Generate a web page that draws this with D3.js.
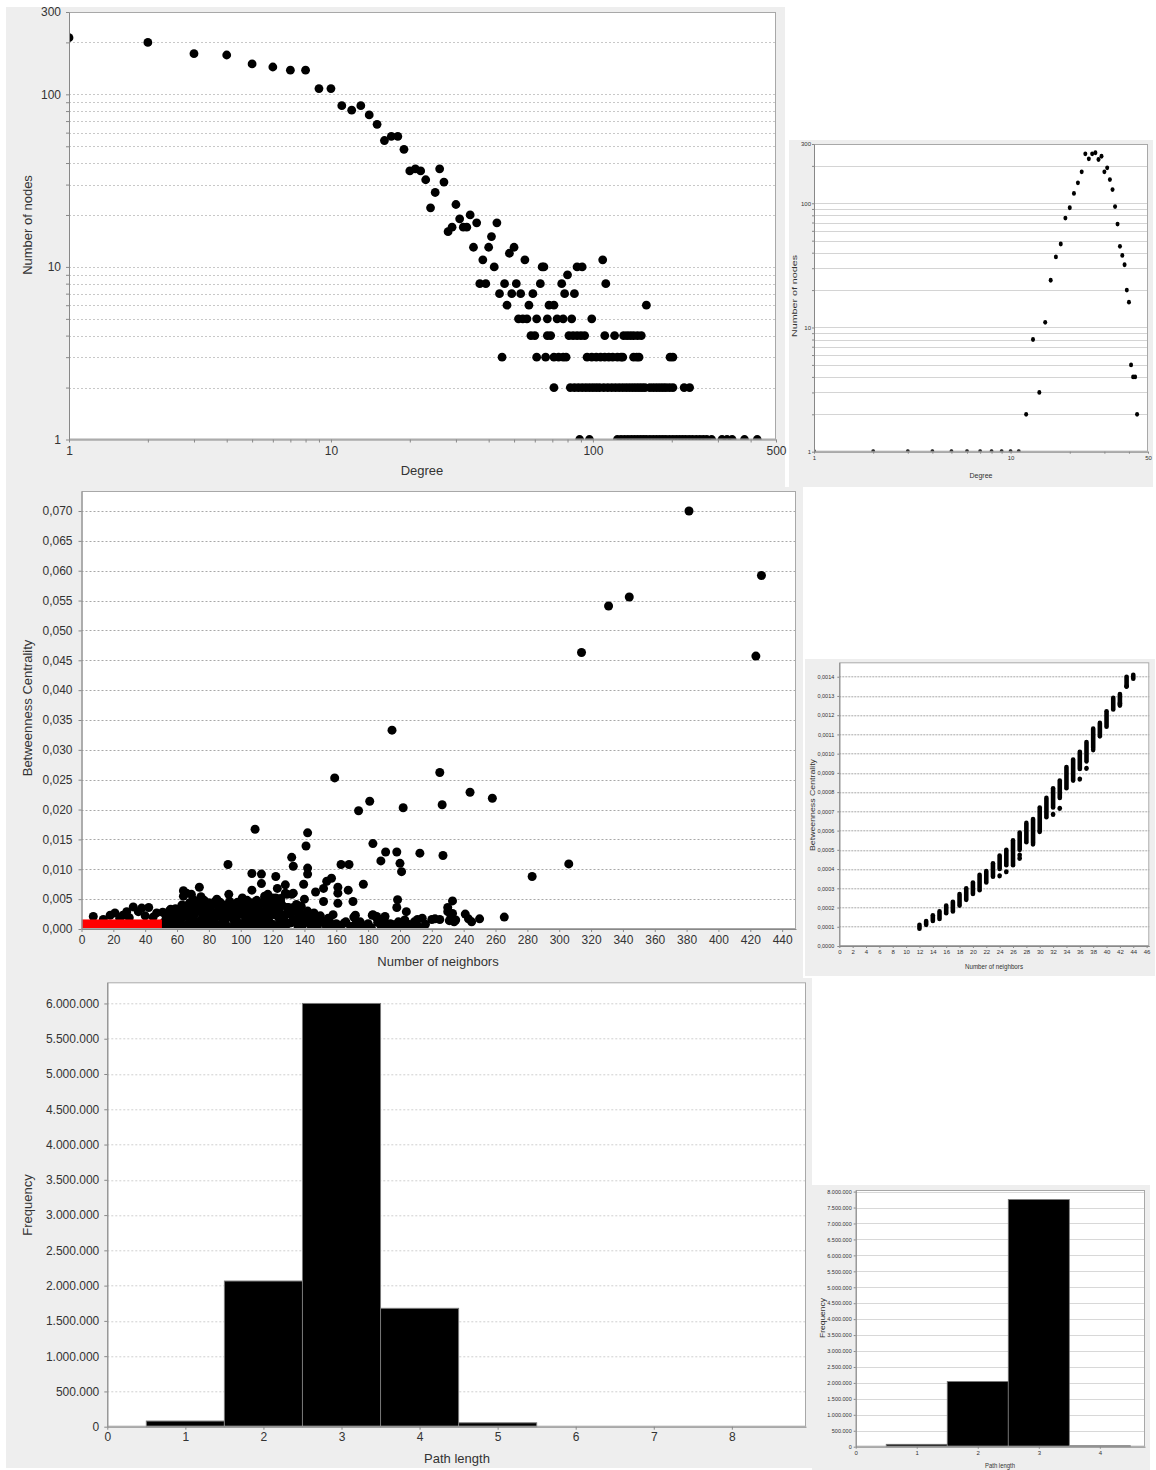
<!DOCTYPE html>
<html>
<head>
<meta charset="utf-8">
<title>Network statistics</title>
<script src="https://cdn.jsdelivr.net/npm/d3@7"></script>
<style>
  body { margin: 0; background: #fff; }
  svg text { font-family: "Liberation Sans", Arial, sans-serif; }
</style>
</head>
<body>
<script>

// ---- degree distribution, big network: [degree, number of nodes]
var degMain = [
  [1,213],[2,200],[3,172],[4,169],[5,150],[6,144],[7,138],[8,138],[9,108],[10,108],
  [11,86],[12,81],[13,86],[14,76],[15,67],[16,54],[17,57],[18,57],[19,48],[20,36],
  [21,37],[22,36],[23,32],[24,22],[25,27],[26,37],[27,31],[28,16],[29,17],[30,23],
  [31,19],[32,17],[33,17],[34,20],[35,13],[36,18],[37,8],[38,11],[39,8],[40,13],
  [41,15],[42,10],[43,18],[44,7],[45,3],[46,8],[47,6],[48,12],[49,7],[50,13],
  [51,8],[52,5],[53,7],[54,5],[55,11],[56,5],[57,6],[58,4],[59,7],[60,4],
  [61,5],[61,3],[63,8],[64,10],[65,10],[66,3],[67,5],[67,4],[68,6],[69,4],
  [71,6],[71,3],[71,2],[73,5],[74,3],[76,8],[77,5],[77,3],[78,7],[79,3],
  [80,9],[81,4],[82,2],[83,5],[84,4],[85,7],[85,2],[87,10],[87,4],[88,2],
  [89,1],[90,4],[91,10],[91,2],[93,4],[94,2],[95,3],[97,1],[97,2],[99,5],[99,3],
  [100,2],[103,3],[103,2],[106,2],[107,3],[109,11],[110,2],[111,4],[111,3],[112,8],
  [114,2],[115,3],[118,2],[119,3],[121,4],[122,2],[124,3],[124,1],[126,2],[128,3],[128,1],
  [130,3],[130,2],[131,4],[132,1],[134,2],[135,4],[136,1],[138,2],[139,4],[140,1],
  [142,2],[143,4],[143,3],[144,1],[146,2],[147,3],[148,4],[148,1],[150,3],[150,2],
  [152,1],[153,4],[154,2],[156,1],[158,2],[160,6],[160,1],[165,2],[165,1],[170,2],[170,1],
  [175,2],[175,1],[180,2],[180,1],[185,2],[185,1],[190,2],[190,1],[196,2],[196,1],
  [197,3],[202,3],[202,2],[202,1],[208,1],[214,1],[220,1],[223,2],[226,1],[233,1],
  [234,2],[240,1],[248,1],[256,1],[264,1],[272,1],[284,1],[311,1],[325,1],[340,1],[379,1],[424,1]
];

// ---- degree distribution, small (random) network
var degSmall = [
  [1,1],[2,1],[3,1],[4,1],[5,1],[6,1],[7,1],[8,1],[9,1],[10,1],[11,1],
  [12,2],[13,8],[14,3],[15,11],[16,24],[17,37],[18,47],[19,76],[20,92],
  [21,120],[22,146],[23,179],[24,250],[25,228],[26,250],[27,255],[28,225],[29,239],[30,179],
  [31,193],[32,155],[33,129],[34,94],[35,68],[36,45],[37,38],[38,32],[39,20],[40,16],
  [41,5],[42,4],[43,4],[44,2]
];

// log axis ticks
var logYTicks = [1,2,3,4,5,6,7,8,9,10,20,30,40,50,60,70,80,90,100,200,300];
var logYLabels = [1,10,100,300];
var logGrid = [2,3,4,5,6,7,8,9,10,20,30,40,50,60,70,80,90,100,200];
var degMainXTicks = [1,2,3,4,5,6,7,8,9,10,20,30,40,50,60,70,80,90,100,200,300,400,500];
var degMainXLabels = [1,10,100,500];
var degSmallXTicks = [1,2,3,4,5,6,7,8,9,10,20,30,40,50];
var degSmallXLabels = [1,10,50];

// ---- betweenness centrality vs number of neighbors, big network
var bcMain = [
  // outliers
  [381.5,0.0700],[427,0.0592],[344,0.0556],[331,0.0541],[314,0.0463],[423.5,0.0457],
  [195,0.0333],[159,0.0253],[225,0.0262],[244,0.0229],[258,0.0219],[181,0.0214],
  [174,0.0198],[202,0.0203],[226.5,0.0208],[109,0.0167],[142,0.0161],[141,0.0139],
  [183,0.0143],[191,0.0129],[198,0.0129],[212.5,0.0127],[227,0.0123],[132,0.0120],
  [188,0.0114],[133,0.0105],[92,0.0108],[163,0.0108],[168,0.0108],[200,0.0110],
  [306,0.0109],[283,0.0088],[142,0.0102],[142,0.0092],[201,0.0096],[107,0.0093],
  [113,0.0092],[122,0.0088],[177,0.0075],[139.5,0.0075],[128,0.0074],[157,0.0085],
  [154,0.0080],[74,0.0070],[161,0.0070],[123,0.0068],[113,0.0076],[64,0.0064],
  [69,0.0058],[92.5,0.0058],[107,0.0065],[167.5,0.0065],[152,0.0068],[128,0.0060],
  [133,0.0060],[147,0.0062],[161,0.0060],[161,0.0043],[170.5,0.0046],[152,0.0046],
  [140,0.0050],[115,0.0055],[119,0.0051],[125,0.0051],[133,0.0036],[130,0.0036],
  [198.5,0.0049],[198,0.0036],[233,0.0047],[230,0.0036],[204,0.0029],[233,0.0026],
  [230,0.0029],[109.6,0.0032],[120.4,0.0028],[116.3,0.0024],[110,0.0021],[117,0.0021],
  [103.7,0.0023],[172,0.0023],[182.6,0.0023],[185.4,0.0021],[190.6,0.0021],
  // low band 140 - 265
  [140,0.0015],[143,0.0012],[146,0.0010],[150,0.0013],[153,0.0008],[156,0.0011],
  [160,0.0009],[163,0.0006],[165,0.0010],[169,0.0004],[171,0.0020],[172,0.0008],
  [175,0.0012],[178,0.0005],[180,0.0009],[183,0.0024],[185,0.0020],[186,0.0011],
  [188,0.0006],[190,0.0016],[192,0.0004],[194,0.0009],[196,0.0007],[199,0.0012],
  [201,0.0005],[203,0.0015],[205,0.0008],[207,0.0004],[209,0.0012],[211,0.0016],
  [214,0.0018],[220,0.0016],[222,0.0017],[225,0.0016],[231,0.0014],[232,0.0020],
  [234,0.0012],[235,0.0015],[241,0.0025],[243,0.0017],[245,0.0012],[250,0.0017],
  [265.5,0.0020],
  // dense cluster 50 - 140
  [51,0.0028],[52,0.0012],[53,0.0022],[54,0.0005],[55,0.0030],[56,0.0016],[57,0.0026],
  [58,0.0008],[59,0.0034],[60,0.0020],[61,0.0031],[62,0.0012],[63,0.0040],[64,0.0055],
  [65,0.0024],[66,0.0060],[66,0.0035],[67,0.0009],[68,0.0044],[69,0.0028],[70,0.0050],
  [70,0.0017],[71,0.0038],[72,0.0006],[73,0.0046],[74,0.0030],[75,0.0054],[75,0.0014],
  [76,0.0040],[77,0.0048],[78,0.0022],[79,0.0036],[80,0.0010],[80,0.0044],[81,0.0030],
  [82,0.0018],[83,0.0041],[84,0.0026],[85,0.0050],[85,0.0008],[86,0.0036],[87,0.0045],
  [88,0.0021],[89,0.0032],[90,0.0012],[90,0.0040],[91,0.0028],[92,0.0004],[93,0.0035],
  [94,0.0020],[95,0.0042],[96,0.0013],[97,0.0030],[98,0.0045],[99,0.0024],[100,0.0038],
  [100,0.0009],[101,0.0052],[102,0.0030],[103,0.0017],[104,0.0048],[105,0.0040],
  [106,0.0024],[107,0.0006],[108,0.0035],[109,0.0013],[110,0.0033],[110,0.0048],
  [111,0.0019],[112,0.0010],[114,0.0026],[115,0.0050],[116,0.0015],[117,0.0058],
  [118,0.0022],[119,0.0030],[120,0.0008],[120,0.0052],[121,0.0034],[122,0.0052],
  [124,0.0018],[125,0.0047],[126,0.0024],[128,0.0012],[129,0.0058],[130,0.0029],
  [131,0.0010],[132,0.0058],[134,0.0035],[135,0.0016],[136,0.0009],[137,0.0033],
  [138,0.0014],[139,0.0007],
  [54,0.0018],[56,0.0033],[58,0.0024],[60,0.0032],[62,0.0026],[63,0.0018],[65,0.0039],
  [67,0.0030],[68,0.0015],[69,0.0042],[71,0.0024],[72,0.0032],[73,0.0012],[74,0.0040],
  [76,0.0020],[77,0.0033],[78,0.0043],[79,0.0016],[81,0.0038],[82,0.0027],[83,0.0013],
  [84,0.0046],[86,0.0022],[87,0.0030],[88,0.0040],[89,0.0015],[91,0.0036],[92,0.0025],
  [93,0.0046],[94,0.0031],[95,0.0018],[96,0.0038],[97,0.0022],[98,0.0011],[99,0.0034],
  [101,0.0026],[102,0.0044],[103,0.0036],[104,0.0021],[105,0.0012],[106,0.0031],
  [107,0.0044],[108,0.0018],[109,0.0027],[111,0.0040],[112,0.0030],[113,0.0017],
  [114,0.0044],[116,0.0034],[118,0.0012],[119,0.0042],[121,0.0024],[123,0.0039],
  [124,0.0030],[126,0.0040],[127,0.0020],[129,0.0036],[131,0.0025],[133,0.0016],
  [135,0.0041],[136,0.0026],[138,0.0038],[140,0.0024],[142,0.0030],[144,0.0018],
  [146,0.0027],[148,0.0015],[150,0.0022],[155,0.0018],[158,0.0024],
  // carpet near zero
  [52,0.0003],[56,0.0002],[60,0.0005],[64,0.0002],[68,0.0004],[72,0.0001],[76,0.0005],
  [80,0.0003],[84,0.0002],[88,0.0006],[92,0.0002],[96,0.0004],[100,0.0001],[104,0.0005],
  [108,0.0002],[112,0.0004],[116,0.0003],[120,0.0002],[124,0.0006],[128,0.0003],
  [132,0.0011],[136,0.0004],[144,0.0006],[148,0.0003],[152,0.0011],[157,0.0004],
  [162,0.0003],[166,0.0012],[174,0.0003],[182,0.0002],[190,0.0002],[198,0.0005],
  [204,0.0002],[212,0.0003],[216,0.0008],
  // left, 0 - 50
  [7.4,0.0021],[13.7,0.0016],[18,0.0023],[21,0.0027],[26,0.0023],[28.4,0.0029],
  [32.5,0.0037],[35.7,0.0029],[37.8,0.0035],[42.2,0.0036],[47.2,0.0027],[45,0.0020],
  [40,0.0022],[30,0.0019],[24,0.0018]
];
// highlighted range of the small network (neighbors, bc)
var bcHighlight = [50.5, 0.0016];
var bcMainXTicks = [0,20,40,60,80,100,120,140,160,180,200,220,240,260,280,300,320,340,360,380,400,420,440];
var bcMainYTicks = [0,0.005,0.010,0.015,0.020,0.025,0.030,0.035,0.040,0.045,0.050,0.055,0.060,0.065,0.070];

// ---- betweenness centrality, small network: [neighbors, min bc, max bc]
var bcSmallRanges = [
  [12,0.00009,0.00011],[13,0.00011,0.00013],[14,0.00013,0.00016],[15,0.00014,0.00018],
  [16,0.00017,0.00021],[17,0.00018,0.00023],[18,0.00021,0.00027],[19,0.00024,0.00030],
  [20,0.00027,0.00033],[21,0.00029,0.00037],[22,0.00033,0.00039],[23,0.00036,0.00043],
  [24,0.00040,0.00047],[25,0.00042,0.00050],[26,0.00042,0.00055],[27,0.00050,0.00059],
  [28,0.00054,0.00064],[29,0.00054,0.00066],[30,0.00060,0.00072],[31,0.00067,0.00077],
  [32,0.00072,0.00082],[33,0.00077,0.00086],[34,0.00082,0.00093],[35,0.00086,0.00097],
  [36,0.00092,0.00101],[37,0.00096,0.00106],[38,0.00103,0.00113],[39,0.00109,0.00116],
  [40,0.00114,0.00122],[41,0.00123,0.00129],[42,0.00125,0.00131],[43,0.00135,0.00140],
  [44,0.00139,0.00141]
];
var bcSmallOutliers = [[24,0.000365],[25,0.000386],[27,0.000473],[27,0.000456],[29,0.00053],
  [30,0.000595],[32,0.000684],[33,0.000716],[36,0.000868],[37,0.000924],[38,0.00102],[42,0.00126],[43,0.00135]];
var bcSmallXTicks = [0,2,4,6,8,10,12,14,16,18,20,22,24,26,28,30,32,34,36,38,40,42,44,46];
var bcSmallYTicks = [0,0.0001,0.0002,0.0003,0.0004,0.0005,0.0006,0.0007,0.0008,0.0009,0.0010,0.0011,0.0012,0.0013,0.0014];

// ---- shortest path length distribution
var pathLen = [1,2,3,4,5];
var pathFreq = [80000,2065000,6000000,1678000,55000];
var pathLenSmall = [1,2,3,4];
var pathFreqSmall = [75000,2044000,7750000,30000];
var pathXTicks = [0,1,2,3,4,5,6,7,8];
var pathSmallXTicks = [0,1,2,3,4];
var freqYTicks = [0,500000,1000000,1500000,2000000,2500000,3000000,3500000,4000000,4500000,5000000,5500000,6000000];
var freqSmallYTicks = [0,500000,1000000,1500000,2000000,2500000,3000000,3500000,4000000,4500000,5000000,5500000,6000000,6500000,7000000,7500000,8000000];

var svg = d3.select("body").append("svg").attr("width",1156).attr("height",1470);
var loc = d3.formatLocale({decimal: ",", thousands: ".", grouping: [3], currency: ["", ""]});

function panelBg(x0, y0, x1, y1) {
  svg.append("rect").attr("x",x0).attr("y",y0).attr("width",x1-x0).attr("height",y1-y0).attr("fill","#eeeeee");
}

function plotArea(id, x0, y0, x1, y1) {
  var g = svg.append("g").attr("transform","translate("+x0+","+y0+")");
  g.append("rect").attr("width",x1-x0).attr("height",y1-y0).attr("fill","#fff");
  svg.append("clipPath").attr("id",id).append("rect").attr("width",x1-x0).attr("height",y1-y0);
  return {g: g, x: x0, y: y0, w: x1-x0, h: y1-y0, clip: "url(#"+id+")"};
}

function hGrid(p, y, vals, color, dash) {
  p.g.append("g").selectAll("line").data(vals).join("line")
    .attr("x1",0).attr("x2",p.w).attr("y1",function(d){ return Math.round(y(d))+0.5; })
    .attr("y2",function(d){ return Math.round(y(d))+0.5; })
    .attr("stroke",color).attr("stroke-dasharray",dash);
}

function frame(p) {
  p.g.append("rect").attr("x",0.5).attr("y",0.5).attr("width",p.w-1).attr("height",p.h-1)
    .attr("fill","none").attr("stroke","#a8a8a8");
}

function styleAxis(sel, size) {
  sel.attr("font-family", null);
  sel.selectAll("text").attr("font-size",size).attr("fill","#333");
  sel.selectAll("line").attr("stroke","#888");
  sel.select(".domain").attr("stroke","#888");
}

function title(x, y, txt, size, rot, len) {
  var t = svg.append("text").attr("x",x).attr("y",y).attr("text-anchor","middle")
    .attr("font-size",size).attr("fill","#333").text(txt);
  if (rot) t.attr("transform","rotate(-90,"+x+","+y+")");
  if (len) t.attr("textLength",len).attr("lengthAdjust","spacingAndGlyphs");
}

// ======== panel 1: degree distribution, big network
panelBg(6, 7, 785, 487);
var p1 = plotArea("c1", 69, 12, 776, 439.5);
var x1 = d3.scaleLog().domain([1,500]).range([0,p1.w]);
var y1 = d3.scaleLog().domain([1,300]).range([p1.h,0]);
hGrid(p1, y1, logGrid, "#c8c8c8", "2,2");
p1.g.append("g").attr("clip-path",p1.clip).selectAll("circle").data(degMain).join("circle")
  .attr("cx",function(d){ return x1(d[0]); }).attr("cy",function(d){ return y1(d[1]); })
  .attr("r",4.4).attr("fill","#000");
frame(p1);
p1.g.append("g").attr("transform","translate(0,"+p1.h+")")
  .call(d3.axisBottom(x1).tickValues(degMainXTicks).tickSize(3).tickSizeOuter(0).tickPadding(4)
    .tickFormat(function(d){ return degMainXLabels.indexOf(d) >= 0 ? d : ""; }))
  .call(styleAxis, 12);
p1.g.append("g")
  .call(d3.axisLeft(y1).tickValues(logYTicks).tickSize(3).tickSizeOuter(0).tickPadding(5)
    .tickFormat(function(d){ return logYLabels.indexOf(d) >= 0 ? d : ""; }))
  .call(styleAxis, 12);
title(422, 475, "Degree", 13);
title(32, 225, "Number of nodes", 13, true);

// ======== panel 2: degree distribution, small network
panelBg(789, 140, 1153, 487);
var p2 = plotArea("c2", 814, 144, 1148, 451.7);
var x2 = d3.scaleLog().domain([1,50]).range([0,p2.w]);
var y2 = d3.scaleLog().domain([1,300]).range([p2.h,0]);
hGrid(p2, y2, logGrid, "#d4d4d4", null);
p2.g.append("g").attr("clip-path",p2.clip).selectAll("ellipse").data(degSmall).join("ellipse")
  .attr("cx",function(d){ return x2(d[0]); }).attr("cy",function(d){ return y2(d[1]); })
  .attr("rx",2).attr("ry",2.4).attr("fill","#000");
frame(p2);
p2.g.append("g").attr("transform","translate(0,"+p2.h+")")
  .call(d3.axisBottom(x2).tickValues(degSmallXTicks).tickSize(2).tickSizeOuter(0).tickPadding(2)
    .tickFormat(function(d){ return degSmallXLabels.indexOf(d) >= 0 ? d : ""; }))
  .call(styleAxis, 6);
p2.g.append("g")
  .call(d3.axisLeft(y2).tickValues(logYTicks).tickSize(2).tickSizeOuter(0).tickPadding(1)
    .tickFormat(function(d){ return logYLabels.indexOf(d) >= 0 ? d : ""; }))
  .call(styleAxis, 6);
title(981, 478, "Degree", 7.5, false, 23);
title(797, 296, "Number of nodes", 7.5, true, 82);

// ======== panel 3: betweenness centrality, big network
panelBg(6, 487, 803, 978);
var p3 = plotArea("c3", 81.5, 491, 796, 929);
var x3 = d3.scaleLinear().domain([0,448.7]).range([0,p3.w]);
var y3 = d3.scaleLinear().domain([0,0.07335]).range([p3.h,0]);
hGrid(p3, y3, bcMainYTicks.slice(1), "#a8a8a8", "2,2");
var g3 = p3.g.append("g").attr("clip-path",p3.clip);
g3.selectAll("circle").data(bcMain).join("circle")
  .attr("cx",function(d){ return x3(d[0]); }).attr("cy",function(d){ return y3(d[1]); })
  .attr("r",4.5).attr("fill","#000");
g3.append("rect").attr("x",x3(0)).attr("y",y3(bcHighlight[1]))
  .attr("width",x3(bcHighlight[0])-x3(0)).attr("height",y3(0)-y3(bcHighlight[1]))
  .attr("fill","#ff0000");
frame(p3);
p3.g.append("g").attr("transform","translate(0,"+p3.h+")")
  .call(d3.axisBottom(x3).tickValues(bcMainXTicks).tickSize(3).tickSizeOuter(0).tickPadding(3)
    .tickFormat(d3.format("d")))
  .call(styleAxis, 12);
p3.g.append("g")
  .call(d3.axisLeft(y3).tickValues(bcMainYTicks).tickSize(3).tickSizeOuter(0).tickPadding(6)
    .tickFormat(loc.format(".3f")))
  .call(styleAxis, 12);
title(438, 966, "Number of neighbors", 13);
title(32, 708, "Betweenness Centrality", 13, true);

// ======== panel 4: betweenness centrality, small network
panelBg(805, 659, 1155, 976);
var p4 = plotArea("c4", 839.3, 662.3, 1149.3, 946);
var x4 = d3.scaleLinear().domain([0,46.4]).range([0,p4.w]);
var y4 = d3.scaleLinear().domain([0,0.001475]).range([p4.h,0]);
hGrid(p4, y4, bcSmallYTicks.slice(1), "#a8a8a8", "2,1");
var g4 = p4.g.append("g").attr("clip-path",p4.clip);
g4.selectAll("line").data(bcSmallRanges).join("line")
  .attr("x1",function(d){ return x4(d[0]); }).attr("x2",function(d){ return x4(d[0]); })
  .attr("y1",function(d){ return y4(d[1]); }).attr("y2",function(d){ return y4(d[2]); })
  .attr("stroke","#000").attr("stroke-width",4.6).attr("stroke-linecap","round");
g4.selectAll("ellipse").data(bcSmallOutliers).join("ellipse")
  .attr("cx",function(d){ return x4(d[0]); }).attr("cy",function(d){ return y4(d[1]); })
  .attr("rx",2.3).attr("ry",2.6).attr("fill","#000");
frame(p4);
p4.g.append("g").attr("transform","translate(0,"+p4.h+")")
  .call(d3.axisBottom(x4).tickValues(bcSmallXTicks).tickSize(2).tickSizeOuter(0).tickPadding(2)
    .tickFormat(d3.format("d")))
  .call(styleAxis, 6);
p4.g.append("g")
  .call(d3.axisLeft(y4).tickValues(bcSmallYTicks).tickSize(2).tickSizeOuter(0).tickPadding(3)
    .tickFormat(loc.format(".4f")))
  .call(styleAxis, 5.5);
title(994, 969, "Number of neighbors", 7.5, false, 58);
title(815, 805, "Betweenness Centrality", 7.5, true, 92);

// ======== panel 5: path length distribution, big network
panelBg(6, 978, 812, 1468);
var p5 = plotArea("c5", 107.3, 982.3, 806, 1426.7);
var x5 = d3.scaleLinear().domain([0,8.95]).range([0,p5.w]);
var y5 = d3.scaleLinear().domain([0,6300000]).range([p5.h,0]);
hGrid(p5, y5, freqYTicks.slice(1), "#cfcfcf", "2,2");
p5.g.append("g").selectAll("rect").data(pathLen).join("rect")
  .attr("x",function(d){ return x5(d-0.5); }).attr("width",function(d){ return x5(d+0.5)-x5(d-0.5); })
  .attr("y",function(d,i){ return y5(pathFreq[i]); })
  .attr("height",function(d,i){ return y5(0)-y5(pathFreq[i]); })
  .attr("fill","#000").attr("stroke","#777").attr("stroke-width",1);
frame(p5);
p5.g.append("g").attr("transform","translate(0,"+p5.h+")")
  .call(d3.axisBottom(x5).tickValues(pathXTicks).tickSize(3).tickSizeOuter(0).tickPadding(3)
    .tickFormat(d3.format("d")))
  .call(styleAxis, 12);
p5.g.append("g")
  .call(d3.axisLeft(y5).tickValues(freqYTicks).tickSize(3).tickSizeOuter(0).tickPadding(5)
    .tickFormat(loc.format(",d")))
  .call(styleAxis, 12);
title(457, 1463, "Path length", 13);
title(32, 1205, "Frequency", 13, true);

// ======== panel 6: path length distribution, small network
panelBg(812, 1185, 1150, 1470);
var p6 = plotArea("c6", 855.7, 1190, 1145, 1446.7);
var x6 = d3.scaleLinear().domain([0,4.74]).range([0,p6.w]);
var y6 = d3.scaleLinear().domain([0,8050000]).range([p6.h,0]);
hGrid(p6, y6, freqSmallYTicks.slice(1), "#d8d8d8", null);
p6.g.append("g").selectAll("rect").data(pathLenSmall).join("rect")
  .attr("x",function(d){ return x6(d-0.5); }).attr("width",function(d){ return x6(d+0.5)-x6(d-0.5); })
  .attr("y",function(d,i){ return y6(pathFreqSmall[i]); })
  .attr("height",function(d,i){ return y6(0)-y6(pathFreqSmall[i]); })
  .attr("fill","#000").attr("stroke","#777").attr("stroke-width",0.8);
frame(p6);
p6.g.append("g").attr("transform","translate(0,"+p6.h+")")
  .call(d3.axisBottom(x6).tickValues(pathSmallXTicks).tickSize(2).tickSizeOuter(0).tickPadding(2)
    .tickFormat(d3.format("d")))
  .call(styleAxis, 6);
p6.g.append("g")
  .call(d3.axisLeft(y6).tickValues(freqSmallYTicks).tickSize(2).tickSizeOuter(0).tickPadding(2)
    .tickFormat(loc.format(",d")))
  .call(styleAxis, 5.5);
title(1000, 1468, "Path length", 7, false, 30);
title(825, 1318, "Frequency", 7, true, 40);

</script>
</body>
</html>
